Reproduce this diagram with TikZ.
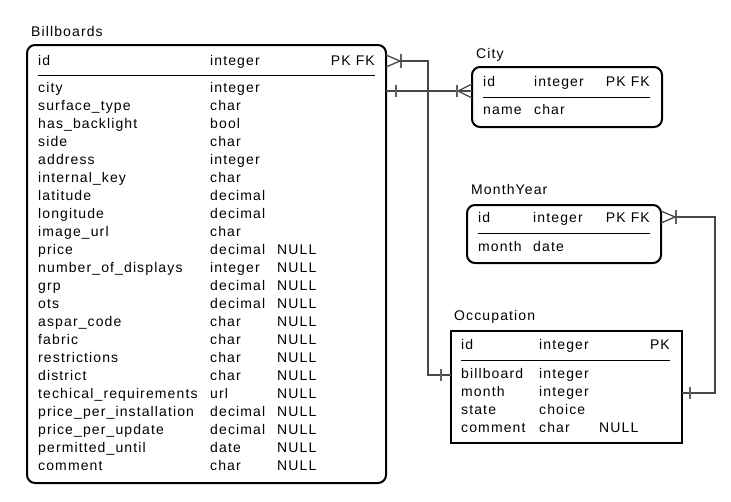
\documentclass[tikz,border=0pt]{standalone}
\usepackage{fontspec}
\setmainfont{Liberation Sans}[LetterSpace=8]
\usetikzlibrary{calc}
\newcommand{\erfs}{\fontsize{14}{16}\selectfont}
\begin{document}
\begin{tikzpicture}[x=1pt,y=-1pt,
  box/.style={draw, line width=2pt, anchor=north west, inner sep=0pt, outer sep=0pt},
  rbox/.style={box, rounded corners=8pt},
  txt/.style={anchor=base west, inner sep=0pt, font=\erfs},
  txr/.style={anchor=base east, inner sep=0pt, font=\erfs},
  sepline/.style={line width=1pt},
  conn/.style={draw=black!72, line width=1.3pt},
  tick/.style={draw=black!62, line width=1.3pt}]
\useasboundingbox (0,0) rectangle (731,501);

% ---------- Billboards ----------
\node[txt] (bbtitle) at (31,36) {Billboards};
\node[rbox, minimum width=359pt, minimum height=438pt] (bb) at (27,45) {};
\node[txt] (bbid) at (38,65) {id};
\node[txt] (bbidt) at (210,65) {integer};
\node[txr] (bbidk) at (375,65) {PK FK};
\draw[sepline] (38,75) -- (375,75);
\foreach[count=\i from 0] \n/\t in {city/integer, surface\_type/char, has\_backlight/bool, side/char, address/integer, internal\_key/char, latitude/decimal, longitude/decimal, image\_url/char}{
  \node[txt] (bbn\i) at (38,{92+18*\i}) {\n};
  \node[txt] (bbt\i) at (210,{92+18*\i}) {\t};
}
\foreach[count=\i from 9] \n/\t in {price/decimal, number\_of\_displays/integer, grp/decimal, ots/decimal, aspar\_code/char, fabric/char, restrictions/char, district/char, techical\_requirements/url, price\_per\_installation/decimal, price\_per\_update/decimal, permitted\_until/date, comment/char}{
  \node[txt] (bbn\i) at (38,{92+18*\i}) {\n};
  \node[txt] (bbt\i) at (210,{92+18*\i}) {\t};
  \node[txt] (bbu\i) at (277,{92+18*\i}) {NULL};
}

% ---------- City ----------
\node[txt] (citytitle) at (476,58) {City};
\node[rbox, minimum width=190pt, minimum height=60pt] (city) at (472,67) {};
\node[txt] (cityid) at (483,86.5) {id};
\node[txt] (cityidt) at (534,86.5) {integer};
\node[txr] (cityidk) at (650,86.5) {PK FK};
\draw[sepline] (483,97) -- (650,97);
\node[txt] (cityn) at (483,114.5) {name};
\node[txt] (cityt) at (534,114.5) {char};

% ---------- MonthYear ----------
\node[txt] (mytitle) at (471,194) {MonthYear};
\node[rbox, minimum width=194pt, minimum height=58pt] (my) at (467,205) {};
\node[txt] (myid) at (478,222) {id};
\node[txt] (myidt) at (533,222) {integer};
\node[txr] (myidk) at (650,222) {PK FK};
\draw[sepline] (478,233) -- (650,233);
\node[txt] (myn) at (478,251) {month};
\node[txt] (myt) at (533,251) {date};

% ---------- Occupation ----------
\node[txt] (octitle) at (454,320) {Occupation};
\node[box, minimum width=231pt, minimum height=112pt] (oc) at (451,331) {};
\node[txt] (ocid) at (461,349) {id};
\node[txt] (ocidt) at (539,349) {integer};
\node[txr] (ocidk) at (670,349) {PK};
\draw[sepline] (461,360) -- (670,360);
\foreach[count=\i from 0] \n/\t in {billboard/integer, month/integer, state/choice, comment/char}{
  \node[txt] (ocn\i) at (461,{378+18*\i}) {\n};
  \node[txt] (oct\i) at (539,{378+18*\i}) {\t};
}
\node[txt] (ocu3) at (599,432) {NULL};

% ---------- ports ----------
\coordinate (bbA) at ($(bb.north east)+(0,16)$);
\coordinate (bbB) at ($(bb.north east)+(0,46)$);
\coordinate (cityA) at ($(city.north west)+(0,24)$);
\coordinate (myA) at ($(my.north east)+(0,12)$);
\coordinate (ocA) at ($(oc.north west)+(0,44)$);
\coordinate (ocB) at ($(oc.north east)+(0,62)$);

% ---------- connectors ----------
% Billboards id -- Occupation billboard
\draw[conn] ($(bbA)+(0,-6)$) -- ($(bbA)+(14,0)$) -- ($(bbA)+(0,6)$);
\draw[tick] ($(bbA)+(15,-7)$) -- ($(bbA)+(15,7)$);
\draw[conn] ($(bbA)+(14,0)$) -| (428,0 |- ocA) -- (ocA);
\draw[tick] ($(ocA)+(-10,-6)$) -- ($(ocA)+(-10,6)$);

% Billboards city -- City id
\draw[conn] (bbB) -- (cityA);
\draw[tick] ($(bbB)+(10,-6)$) -- ($(bbB)+(10,6)$);
\draw[conn] ($(cityA)+(0,-7)$) -- ($(cityA)+(-14,0)$) -- ($(cityA)+(0,7)$);
\draw[tick] ($(cityA)+(-15,-6)$) -- ($(cityA)+(-15,6)$);

% MonthYear id -- Occupation month
\draw[conn] ($(myA)+(0,-6)$) -- ($(myA)+(14,0)$) -- ($(myA)+(0,6)$);
\draw[tick] ($(myA)+(15,-7)$) -- ($(myA)+(15,7)$);
\draw[conn] ($(myA)+(14,0)$) -- (715,0 |- myA) |- (ocB);
\draw[tick] ($(ocB)+(8,-6)$) -- ($(ocB)+(8,6)$);
\end{tikzpicture}
\end{document}
